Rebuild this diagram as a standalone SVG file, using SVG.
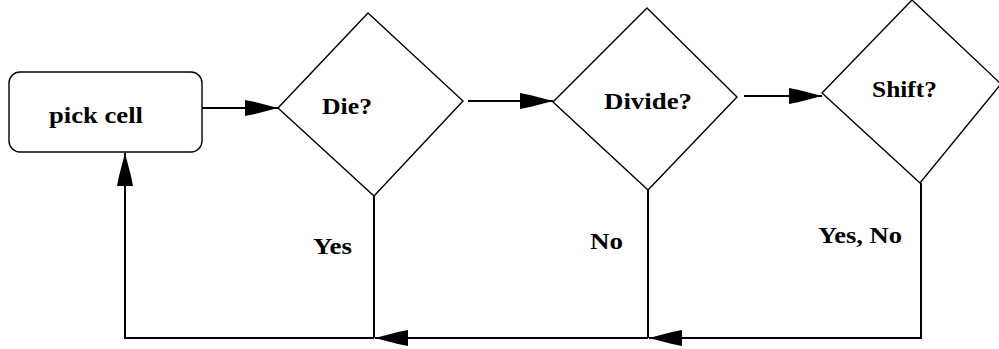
<svg xmlns="http://www.w3.org/2000/svg" width="999" height="349" viewBox="0 0 999 349">
<style>
.shape{fill:#fff;stroke:#000;stroke-width:1.4}
.conn{fill:none;stroke:#000;stroke-width:2}
.lbl{font-family:"Liberation Serif","Times New Roman",serif;font-weight:bold;font-size:23px;fill:#000}
</style>
<defs>
<marker id="ah" markerUnits="userSpaceOnUse" markerWidth="36" markerHeight="20" viewBox="0 -10 36 20" refX="33" refY="0" orient="auto">
<path d="M0,-8 L10,-6 L33,0 L10,6 L0,8 Z" fill="#000"/>
</marker>
</defs>
<rect width="999" height="349" fill="#fff"/>
<g id="connectors">
<path class="conn" d="M202,108 H278" marker-end="url(#ah)"/>
<path class="conn" d="M468,101 H553" marker-end="url(#ah)"/>
<path class="conn" d="M744,96 H822" marker-end="url(#ah)"/>
<path class="conn" d="M374,196 V338"/>
<path class="conn" d="M648,190 V338"/>
<path class="conn" d="M921,183 V338 H649" marker-end="url(#ah)"/>
<path class="conn" d="M648,338 H375" marker-end="url(#ah)"/>
<path class="conn" d="M374,338 H125 V153" marker-end="url(#ah)"/>
</g>
<g id="pick-cell">
<rect class="shape" x="9" y="72" width="193" height="80" rx="11"/>
<text class="lbl" x="49" y="123" textLength="94" lengthAdjust="spacingAndGlyphs">pick cell</text>
</g>
<g id="die">
<polygon class="shape" points="368,13 463,101 374,196 278,108"/>
<text class="lbl" x="322" y="114" textLength="50" lengthAdjust="spacingAndGlyphs">Die?</text>
</g>
<g id="divide">
<polygon class="shape" points="647,8 737,97 648,190 553,102"/>
<text class="lbl" x="604" y="109" textLength="88" lengthAdjust="spacingAndGlyphs">Divide?</text>
</g>
<g id="shift">
<polygon class="shape" points="912,0 1001,84 920,183 822,93"/>
<text class="lbl" x="872" y="97" textLength="65" lengthAdjust="spacingAndGlyphs">Shift?</text>
</g>
<g id="labels">
<text class="lbl" x="313" y="254" textLength="39" lengthAdjust="spacingAndGlyphs">Yes</text>
<text class="lbl" x="590" y="249" textLength="33" lengthAdjust="spacingAndGlyphs">No</text>
<text class="lbl" x="818" y="243" textLength="84" lengthAdjust="spacingAndGlyphs">Yes, No</text>
</g>
</svg>
